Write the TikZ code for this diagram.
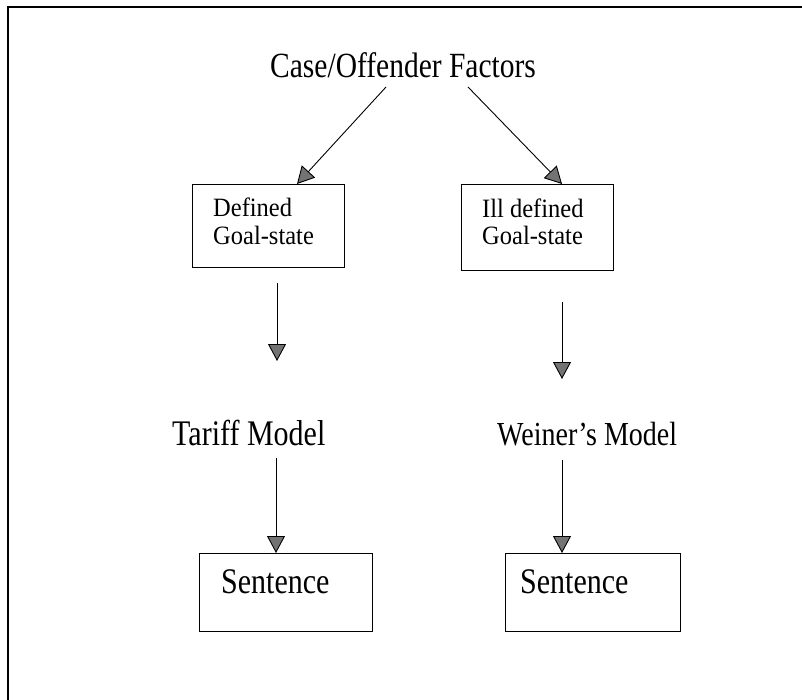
\documentclass[tikz,border=0pt]{standalone}
\usepackage{fontspec}
\usepackage{graphicx}
\setmainfont{Liberation Serif}
\usetikzlibrary{arrows.meta}
\newcommand{\tallt}[1]{\scalebox{1}[1.2]{#1}}
\newcommand{\tallb}[1]{\scalebox{1}[1.08]{#1}}
\begin{document}
\begin{tikzpicture}[x=1pt,y=-1pt,
  frame/.style={line width=1.1pt},
  box/.style={draw,line width=0.9pt,anchor=north west,inner sep=0pt},
  txt/.style={anchor=base west,inner sep=0pt},
  arr/.style={line width=0.9pt,-{Triangle[width=18pt,length=17pt,fill=black!55]}},
  ttl/.style={font=\fontsize{29.5}{30}\selectfont},
  med/.style={font=\fontsize{30}{30}\selectfont},
  wmed/.style={font=\fontsize{28}{28}\selectfont},
  sml/.style={font=\fontsize{24.5}{24.5}\selectfont}]
\useasboundingbox (0,0) rectangle (802,700);
\draw[frame] (8,700) -- (8,7) -- (802,7);
% title
\node[txt,ttl] (title) at (270,78) {\tallt{Case/Offender Factors}};
\coordinate (tl) at (386,87);
\coordinate (tr) at (468,87);
% goal-state boxes
\node[box,minimum width=152pt,minimum height=83pt] (dbox) at (192,184) {};
\node[txt,sml] (d1) at (213,217) {\tallb{Defined}};
\node[txt,sml] (d2) at (213,245) {\tallb{Goal-state}};
\node[box,minimum width=152pt,minimum height=86pt] (ibox) at (461,184) {};
\node[txt,sml] (i1) at (482,218) {\tallb{Ill defined}};
\node[txt,sml] (i2) at (482,245) {\tallb{Goal-state}};
\coordinate (dtop) at (297,184);
\coordinate (itop) at (562,184);
\draw[arr] (tl) -- (dtop);
\draw[arr] (tr) -- (itop);
% models
\node[txt,med] (tariff) at (172,445) {\tallt{Tariff Model}};
\node[txt,wmed] (weiner) at (497,445) {\tallt{Weiner’s Model}};
\coordinate (da) at (277,283);
\coordinate (db) at (277,361);
\coordinate (ia) at (562,302);
\coordinate (ib) at (562,379);
\draw[arr] (da) -- (db);
\draw[arr] (ia) -- (ib);
% sentence boxes
\node[box,minimum width=173pt,minimum height=78pt] (s1) at (199,553) {};
\node[txt,med] (s1t) at (221,593) {\tallt{Sentence}};
\node[box,minimum width=175pt,minimum height=78pt] (s2) at (505,553) {};
\node[txt,med] (s2t) at (520,593) {\tallt{Sentence}};
\coordinate (ta) at (276,458);
\coordinate (wa) at (562,460);
\draw[arr] (ta) -- (s1.north -| ta);
\draw[arr] (wa) -- (s2.north -| wa);
\end{tikzpicture}
\end{document}
